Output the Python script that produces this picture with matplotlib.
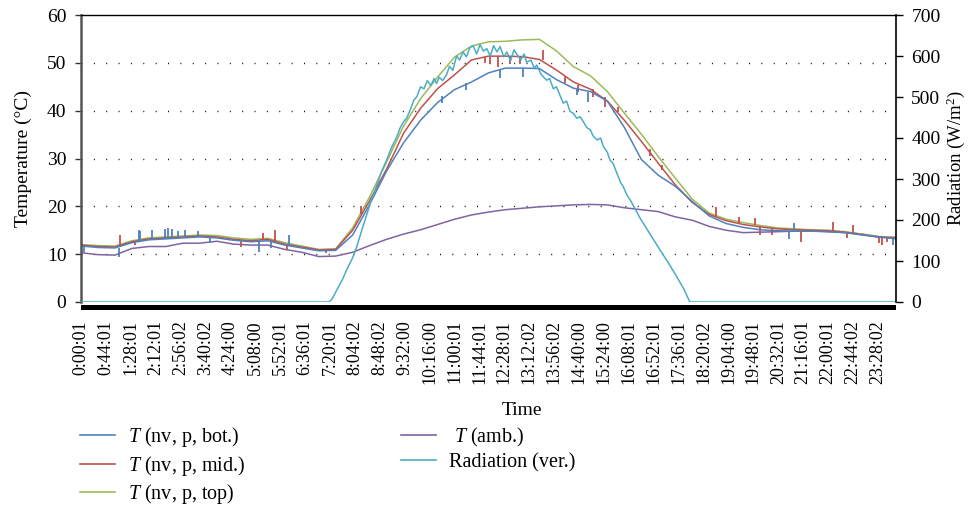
import numpy as np
import matplotlib
matplotlib.use("Agg")
import matplotlib.pyplot as plt
from matplotlib.lines import Line2D
from matplotlib.patches import Rectangle

plt.rcParams["font.family"] = ["Liberation Serif", "DejaVu Serif"]
plt.rcParams["mathtext.fontset"] = "custom"
plt.rcParams["mathtext.rm"] = "Liberation Serif"
plt.rcParams["mathtext.it"] = "Liberation Serif:italic"

# time axis labels (every 44 min)
tick_labels = ["0:00:01", "0:44:01", "1:28:01", "2:12:01", "2:56:02", "3:40:02", "4:24:00",
               "5:08:00", "5:52:01", "6:36:01", "7:20:01", "8:04:02", "8:48:02", "9:32:00",
               "10:16:00", "11:00:01", "11:44:01", "12:28:01", "13:12:02", "13:56:02",
               "14:40:00", "15:24:00", "16:08:01", "16:52:01", "17:36:01", "18:20:02",
               "19:04:00", "19:48:01", "20:32:01", "21:16:01", "22:00:01", "22:44:02", "23:28:02"]

# half-hour readings (hours of day)
hours = [0.0, 0.5, 1.0, 1.5, 2.0, 2.5, 3.0, 3.5, 4.0, 4.5, 5.0, 5.5, 6.0, 6.5, 7.0, 7.5,
         8.0, 8.5, 9.0, 9.5, 10.0, 10.5, 11.0, 11.5, 12.0, 12.5, 13.0, 13.5, 14.0, 14.5,
         15.0, 15.5, 16.0, 16.5, 17.0, 17.5, 18.0, 18.5, 19.0, 19.5, 20.0, 20.5, 21.0,
         21.5, 22.0, 22.5, 23.0, 23.5, 24.0]

t_top = [12.0, 11.8, 11.7, 12.8, 13.4, 13.6, 13.8, 14.0, 13.9, 13.4, 13.1, 13.3, 12.4, 11.7, 11.0, 11.1,
         15.5, 22.0, 29.3, 36.8, 42.5, 47.0, 51.2, 53.5, 54.4, 54.5, 54.8, 54.9, 52.5, 49.2,
         47.3, 44.0, 39.5, 35.1, 30.4, 25.9, 21.5, 18.6, 17.3, 16.6, 16.0, 15.5, 15.3,
         15.1, 15.0, 14.7, 14.2, 13.7, 13.5]

t_mid = [11.9, 11.6, 11.5, 12.6, 13.2, 13.4, 13.6, 13.8, 13.6, 13.1, 12.8, 13.1, 12.1, 11.5, 10.9, 11.0,
         15.0, 21.2, 27.8, 35.3, 40.5, 44.6, 47.5, 50.6, 51.4, 51.4, 51.3, 50.7, 48.5, 46.0,
         44.5, 42.0, 38.0, 33.6, 29.0, 24.5, 20.8, 18.3, 17.0, 16.2, 15.7, 15.3, 15.1,
         15.0, 14.9, 14.6, 14.1, 13.6, 13.4]

t_bot = [11.7, 11.4, 11.3, 12.4, 13.0, 13.2, 13.4, 13.6, 13.4, 12.9, 12.6, 12.8, 11.9, 11.3, 10.7, 10.8,
         14.0, 20.4, 27.4, 33.3, 38.0, 41.7, 44.4, 46.0, 47.9, 48.9, 48.9, 48.8, 46.5, 44.7,
         44.0, 42.0, 36.5, 29.8, 26.5, 24.2, 21.0, 18.0, 16.4, 15.6, 15.1, 14.9, 14.8,
         14.8, 14.7, 14.5, 14.0, 13.6, 13.2]

t_amb = [10.3, 9.9, 9.8, 11.2, 11.6, 11.6, 12.3, 12.3, 12.7, 12.1, 11.9, 11.9, 11.0, 10.4, 9.5, 9.6,
         10.4, 11.8, 13.1, 14.2, 15.1, 16.2, 17.3, 18.2, 18.8, 19.3, 19.6, 19.9, 20.1, 20.3,
         20.4, 20.3, 19.7, 19.3, 18.9, 17.8, 17.1, 15.8, 15.0, 14.5, 14.6, 14.7, 14.8,
         14.9, 14.7, 14.5, 14.2, 13.5, 13.5]

# short sensor spikes: time, line level, tip level
bot_spike_t = [0.09, 1.13, 1.72, 1.75, 2.08, 2.47, 2.57, 2.67, 2.87, 3.06, 3.45, 3.8, 5.24, 5.6, 6.13,
               10.62, 11.34, 12.34, 13.02, 14.6, 14.92, 20.86, 21.0, 23.92]
bot_spike_lo = [11.7, 11.3, 12.8, 12.9, 13.0, 13.2, 13.2, 13.3, 13.4, 13.4, 13.6, 13.5, 12.7, 12.6, 11.8,
                43.0, 45.8, 48.6, 48.9, 44.5, 44.0, 14.9, 14.8, 13.3]
bot_spike_hi = [10.4, 9.5, 15.1, 14.8, 15.0, 15.3, 15.5, 15.3, 14.8, 15.1, 14.9, 12.3, 10.5, 11.2, 14.0,
                41.6, 44.4, 46.8, 47.1, 43.3, 41.9, 13.2, 16.6, 11.9]

mid_spike_t = [1.15, 1.6, 4.71, 5.35, 5.71, 6.07, 7.21, 8.26, 11.9, 12.03, 12.29, 12.63, 12.92, 13.6,
               14.25, 14.65, 15.08, 15.43, 15.82, 16.75, 17.1, 18.7, 19.39, 19.85, 20.0, 20.34,
               21.19, 22.15, 22.55, 22.74, 23.5, 23.6, 23.73]
mid_spike_lo = [11.5, 12.7, 13.0, 13.0, 12.8, 12.1, 10.9, 18.3, 51.3, 51.4, 51.4, 51.4, 51.3, 50.5,
                47.0, 45.3, 44.5, 42.8, 40.7, 32.0, 28.6, 17.8, 16.4, 16.0, 15.7, 15.4,
                15.1, 14.8, 14.6, 14.4, 13.6, 13.6, 13.5]
mid_spike_hi = [14.0, 11.9, 11.6, 14.5, 15.1, 10.9, 10.2, 20.0, 49.9, 49.7, 49.2, 49.7, 49.7, 52.7,
                45.7, 44.0, 42.9, 40.8, 39.8, 30.5, 27.6, 19.9, 17.8, 17.5, 14.0, 14.0,
                12.6, 16.8, 13.3, 16.0, 12.3, 12.0, 12.5]

# vertical radiation (W/m2)
rad_hours = [0.0, 7.30, 7.40, 7.53, 7.70, 7.82, 8.00, 8.12, 8.25, 8.41, 8.55, 8.71, 8.85, 9.00,
             9.15, 9.30, 9.40, 9.50, 9.59, 9.70, 9.80, 9.89, 10.00, 10.10, 10.20, 10.30, 10.40,
             10.47, 10.55, 10.65, 10.77, 10.85, 10.95, 11.06, 11.15, 11.25, 11.35, 11.45, 11.55,
             11.65, 11.75, 11.85, 11.95, 12.05, 12.15, 12.25, 12.34, 12.45, 12.54, 12.65, 12.75,
             12.83, 12.95, 13.05, 13.12, 13.25, 13.35, 13.42, 13.55, 13.71, 13.80, 13.91, 14.00,
             14.10, 14.20, 14.30, 14.40, 14.50, 14.60, 14.70, 14.79, 14.90, 15.00, 15.08, 15.20,
             15.30, 15.38, 15.50, 15.58, 15.67, 15.80, 15.90, 15.97, 16.07, 16.20, 16.30, 16.46,
             16.56, 16.80, 17.05, 17.30, 17.54, 17.75, 17.93, 24.0]
rad_vals = [0, 0, 8, 29, 55, 78, 108, 135, 170, 212, 248, 285, 318, 346,
            378, 403, 425, 440, 448, 470, 492, 501, 525, 520, 540, 528, 545,
            533, 548, 540, 555, 575, 565, 600, 590, 610, 598, 620, 625,
            605, 628, 612, 618, 600, 625, 610, 623, 598, 610, 588, 615,
            605, 590, 605, 585, 590, 570, 578, 555, 541, 545, 520, 525,
            505, 485, 490, 465, 460, 448, 452, 440, 425, 420, 405, 395,
            400, 380, 365, 346, 338, 310, 290, 281, 262, 245, 230, 205,
            192, 160, 127, 95, 62, 32, 0, 0]

c_bot, c_mid, c_top, c_amb, c_rad = "#4F81BD", "#C0504D", "#9BBB59", "#8064A2", "#4BACC6"


def to_hours(label):
    h, m, s = label.split(":")
    return int(h) + int(m) / 60 + int(s) / 3600


fig = plt.figure(figsize=(9.71, 5.17), dpi=100)
ax = fig.add_axes([81 / 971, 1 - 302 / 517, 815 / 971, 287 / 517])

lw = 1.1
ax.plot(hours, t_amb, color=c_amb, lw=lw)
ax.plot(hours, t_top, color=c_top, lw=lw)
ax.plot(hours, t_mid, color=c_mid, lw=lw)
ax.vlines(mid_spike_t, mid_spike_lo, mid_spike_hi, color=c_mid, lw=1.3)
ax.plot(hours, t_bot, color=c_bot, lw=lw)
ax.vlines(bot_spike_t, bot_spike_lo, bot_spike_hi, color=c_bot, lw=1.3)

ax.set_xlim(0, 24)
ax.set_ylim(0, 60)
ax.set_yticks(range(0, 61, 10))
ax.set_xticks([to_hours(s) for s in tick_labels])
ax.set_xticklabels(tick_labels, rotation=90, fontsize=13)
ax.tick_params(axis="x", length=0, pad=13)
ax.tick_params(axis="y", labelsize=14, length=4.5, width=1, color="#333333", pad=6)
for y in range(10, 60, 10):
    ax.axhline(y, color="black", lw=1.0, ls=(0, (0.7, 8.2)), zorder=0.5)

ax.spines["left"].set_color("#555555")
ax.spines["left"].set_linewidth(1.8)
ax.spines["top"].set_linewidth(1.0)
ax.spines["bottom"].set_visible(False)
ax.spines["right"].set_visible(False)

ax.set_ylabel("Temperature (°C)", fontsize=14)
ax.yaxis.set_label_coords(-0.060, 0.5)
ax.set_xlabel("Time", fontsize=14)
ax.xaxis.set_label_coords(0.541, -0.35)

# thick black base under the plot area
ax.add_patch(Rectangle((0, -0.027), 1, 0.018, transform=ax.transAxes, color="black",
                       clip_on=False, lw=0))

ax2 = ax.twinx()
ax2.plot(rad_hours, rad_vals, color=c_rad, lw=lw)
ax2.set_ylim(0, 700)
ax2.set_yticks(range(0, 701, 100))
ax2.tick_params(axis="y", labelsize=14, length=5, width=1, pad=6)
ax2.spines["right"].set_linewidth(1.2)
ax2.spines["bottom"].set_visible(False)
ax2.spines["left"].set_visible(False)
ax2.spines["top"].set_visible(False)
ax2.set_ylabel(r"Radiation (W/m$^2$)", fontsize=13.5)
ax2.yaxis.set_label_coords(1.060, 0.5)

handles = [Line2D([], [], color=c, lw=1.2) for c in [c_bot, c_mid, c_top, c_amb, c_rad]]
labels = [r"$T$ (nv, p, bot.)", r"$T$ (nv, p, mid.)", r"$T$ (nv, p, top)",
          r" $T$ (amb.)", "Radiation (ver.)"]
fig.legend(handles, labels, loc="upper left", bbox_to_anchor=(80 / 971, 1 - 425 / 517),
           ncol=2, frameon=False, fontsize=14.5, handlelength=1.75, handletextpad=0.65,
           labelspacing=0.23, columnspacing=7.7, borderpad=0, borderaxespad=0)

fig.savefig("out.png", dpi=100)
